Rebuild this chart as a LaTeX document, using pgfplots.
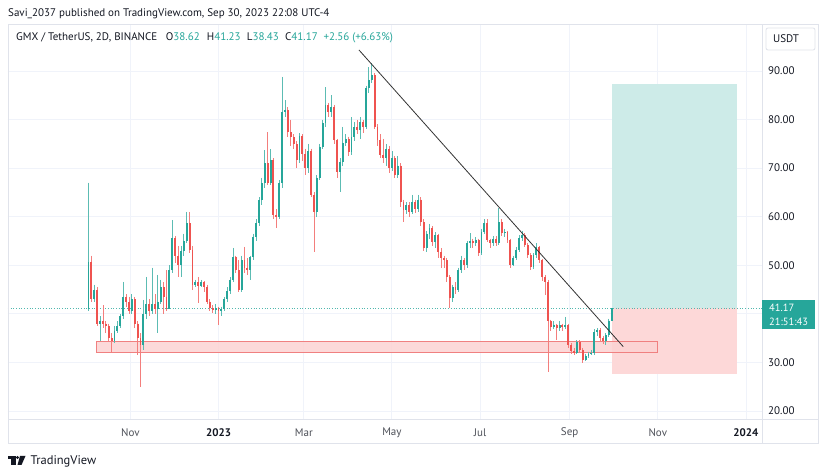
\documentclass[border=0pt]{standalone}
\usepackage{fontspec}
\setmainfont{PT Sans}
\usepackage{pgfplots}
\pgfplotsset{compat=1.18}
\usepackage{pgfplotstable}
\definecolor{upc}{HTML}{26A69A}
\definecolor{dnc}{HTML}{EF5350}
\definecolor{txt}{HTML}{131722}
\definecolor{gridc}{HTML}{F0F3FA}
\definecolor{framec}{HTML}{E0E3EB}
\definecolor{zonefill}{HTML}{FCD3D3}
\definecolor{zoneline}{HTML}{F08080}
\definecolor{tpfill}{HTML}{CDEBE8}
\definecolor{slfill}{HTML}{FDD8D8}

\pgfplotstableread{
i o h l c
0 41.0 67.0 40.5 50.7
1 50.7 52.0 42.5 43.0
2 43.0 46.0 42.5 45.0
3 45.0 45.5 37.5 38.0
4 38.0 39.5 34.5 38.5
5 38.5 41.8 37.0 38.0
6 38.0 38.5 36.0 37.5
7 37.5 38.0 34.5 35.0
8 35.0 36.0 32.0 34.5
9 34.5 37.5 34.0 36.5
10 36.5 38.5 36.0 37.5
11 37.5 40.0 37.0 39.5
12 39.5 46.6 39.0 43.5
13 43.5 44.0 41.5 42.5
14 42.5 43.5 40.0 40.5
15 40.5 44.0 40.0 43.0
16 43.0 43.5 37.0 38.0
17 38.0 38.5 31.5 35.0
18 35.0 36.0 25.0 33.5
19 33.5 42.9 32.5 40.0
20 40.0 47.6 39.0 42.0
21 42.0 43.0 39.5 40.5
22 40.5 49.5 40.0 42.0
23 42.0 44.0 40.0 41.0
24 41.0 48.0 36.0 42.5
25 42.5 47.0 42.0 45.5
26 45.5 46.5 40.0 43.5
27 43.5 49.0 40.5 41.0
28 41.0 50.0 41.0 49.0
29 49.0 59.3 48.5 55.6
30 55.6 56.0 50.5 52.0
31 52.0 54.0 47.6 50.0
32 50.0 54.0 47.5 53.0
33 53.0 56.5 52.0 55.0
34 55.0 61.0 54.5 58.7
35 58.7 61.0 52.5 53.2
36 53.2 54.0 45.0 46.0
37 46.0 47.0 45.5 46.5
38 46.5 47.5 42.2 45.8
39 45.8 47.0 45.5 46.5
40 46.5 46.8 44.5 45.5
41 45.5 46.0 42.0 42.5
42 42.5 43.0 40.5 41.2
43 41.2 41.8 40.2 40.8
44 40.8 42.0 40.0 41.2
45 41.2 41.5 37.7 40.5
46 40.5 41.5 39.5 41.0
47 41.0 43.5 40.5 43.0
48 43.0 45.5 42.5 44.8
49 44.8 47.5 44.0 47.0
50 47.0 53.6 46.5 51.7
51 51.7 52.0 48.5 49.0
52 49.0 51.0 44.5 45.0
53 45.0 52.0 44.5 51.0
54 51.0 53.8 48.5 49.5
55 49.5 51.5 48.0 49.0
56 49.0 52.0 47.0 51.7
57 51.7 56.5 51.0 55.8
58 55.8 59.5 55.0 58.7
59 58.7 64.0 58.0 63.4
60 63.4 68.0 62.5 66.9
61 66.9 73.7 66.0 71.0
62 71.0 77.4 66.5 67.0
63 67.0 73.9 66.5 71.6
64 71.6 72.0 59.5 60.4
65 60.4 61.5 57.7 60.0
66 60.0 67.5 59.5 67.0
67 67.0 88.8 66.0 81.6
68 81.6 84.0 80.5 82.0
69 82.0 82.5 76.5 77.4
70 77.4 80.0 74.5 76.4
71 76.4 77.0 74.0 74.9
72 74.9 75.5 70.0 71.6
73 71.6 77.2 71.0 76.6
74 76.6 77.0 71.5 73.0
75 73.0 74.0 68.5 70.0
76 70.0 75.0 69.0 73.5
77 73.5 74.0 64.0 64.5
78 64.5 65.0 52.7 61.0
79 61.0 68.5 60.0 68.0
80 68.0 75.0 67.5 74.4
81 74.4 80.0 74.0 79.3
82 79.3 86.7 78.5 83.0
83 83.0 83.5 80.5 81.5
84 81.5 85.0 80.5 82.6
85 82.6 83.0 75.0 75.8
86 75.8 76.0 68.0 69.2
87 69.2 72.0 65.1 71.3
88 71.3 78.5 70.5 75.2
89 75.2 77.0 74.5 76.0
90 76.0 76.5 72.5 73.3
91 73.3 80.5 72.8 76.4
92 76.4 79.5 75.5 78.5
93 78.5 80.0 77.0 77.9
94 77.9 80.5 76.0 79.5
95 79.5 80.0 77.2 78.5
96 78.5 87.0 78.0 86.5
97 86.5 90.8 85.5 88.1
98 88.1 91.6 87.5 89.2
99 89.2 89.5 78.0 78.5
100 78.5 79.0 74.5 75.8
101 75.8 77.0 72.0 72.7
102 72.7 76.0 71.0 72.0
103 72.0 75.0 70.5 74.0
104 74.0 74.5 69.0 70.0
105 70.0 73.5 69.5 72.0
106 72.0 72.5 68.0 68.6
107 68.6 72.5 68.0 70.5
108 70.5 71.0 62.0 63.0
109 63.0 63.5 58.9 61.4
110 61.4 63.0 60.5 62.4
111 62.4 63.0 60.0 61.0
112 61.0 64.5 60.5 63.0
113 63.0 63.5 60.8 61.5
114 61.5 64.5 61.0 63.5
115 63.5 64.0 58.0 58.9
116 58.9 59.5 53.0 53.6
117 53.6 57.0 52.7 56.5
118 56.5 58.5 55.5 57.7
119 57.7 58.0 54.0 54.8
120 54.8 56.8 53.5 56.2
121 56.2 56.5 51.5 52.7
122 52.7 53.5 49.5 51.5
123 51.5 52.0 49.5 51.0
124 51.0 51.5 46.5 47.5
125 47.5 48.0 41.2 43.3
126 43.3 46.0 42.5 45.5
127 45.5 46.5 44.0 45.0
128 45.0 49.5 44.5 49.0
129 49.0 52.0 48.5 51.0
130 51.0 51.5 49.0 50.0
131 50.0 55.0 49.5 54.6
132 54.6 56.6 53.5 55.0
133 55.0 55.5 53.5 54.5
134 54.5 55.8 54.0 55.2
135 55.2 55.5 52.0 52.5
136 52.5 57.5 52.2 56.9
137 56.9 59.5 56.5 58.7
138 58.7 59.5 54.8 55.2
139 55.2 55.5 53.5 54.5
140 54.5 56.0 54.0 55.5
141 55.5 56.0 54.0 54.6
142 54.6 61.8 54.2 58.9
143 58.9 59.5 56.0 56.6
144 56.6 57.5 55.8 56.8
145 56.8 57.0 54.5 55.2
146 55.2 55.5 49.5 50.1
147 50.1 52.0 49.8 51.5
148 51.5 53.8 51.0 53.2
149 53.2 56.2 52.8 55.6
150 55.6 57.0 55.0 56.2
151 56.2 56.6 53.8 54.2
152 54.2 54.5 51.5 52.1
153 52.1 52.5 49.0 49.6
154 49.6 52.5 49.2 52.1
155 52.1 54.5 51.5 53.8
156 53.8 54.0 50.5 51.0
157 51.0 51.3 46.8 47.6
158 47.6 48.0 43.9 46.5
159 46.5 47.0 28.0 38.5
160 38.5 38.8 36.5 37.3
161 37.3 38.5 36.8 37.8
162 37.8 38.0 34.6 37.0
163 37.0 38.5 36.5 37.7
164 37.7 38.0 36.5 37.2
165 37.2 39.4 36.8 37.6
166 37.6 38.0 33.0 33.6
167 33.6 34.0 31.8 32.3
168 32.3 33.0 31.5 32.0
169 32.0 34.6 31.8 34.2
170 34.2 34.6 32.2 32.6
171 32.6 33.0 29.9 30.5
172 30.5 31.8 30.2 31.4
173 31.4 32.2 31.0 31.8
174 31.8 32.6 31.5 32.0
175 32.0 36.8 31.6 36.3
176 36.3 37.0 35.5 36.7
177 36.7 37.0 34.5 35.0
178 35.0 35.5 33.8 34.5
179 34.5 36.0 33.5 35.6
180 35.6 39.0 35.2 38.62
181 38.62 41.23 38.43 41.17
}\candles

\begin{document}
\begin{tikzpicture}
\useasboundingbox (0pt,0pt) rectangle (828pt,476pt);
\fill[white] (0pt,0pt) rectangle (828pt,476pt);
\begin{axis}[
  at={(8pt,57pt)}, anchor=south west,
  width=754pt, height=394pt, scale only axis,
  xmin=-145.7, xmax=376.1, ymin=18.35, ymax=99.47,
  axis line style={draw=none},
  major tick length=0pt,
  xtick={-61,0,59,120,181,243,304,365},
  xticklabels={Nov,\textbf{\color{txt}2023},Mar,May,Jul,Sep,Nov,\textbf{\color{txt}2024}},
  ytick={20,30,50,60,70,80,90},
  extra y ticks={40}, extra y tick labels={},
  extra y tick style={grid=major},
  yticklabel pos=right,
  /pgf/number format/assume math mode=true,
  yticklabel={\pgfmathprintnumber[fixed,fixed zerofill,precision=2]{\tick}},
  xticklabel style={font=\fontsize{11}{13}\selectfont, text=txt!75, anchor=center, yshift=-14pt},
  yticklabel style={font=\fontsize{11}{13}\selectfont, text=txt, anchor=west, xshift=6pt, inner sep=0pt},
  grid=major, grid style={draw=gridc, line width=0.9pt},
  clip=false,
]
% long position
\fill[tpfill] (axis cs:272.2,41.17) rectangle (axis cs:358.8,87.3);
\fill[slfill] (axis cs:272.2,27.6) rectangle (axis cs:358.8,41.17);
% support zone
\filldraw[fill=zonefill, fill opacity=0.85, draw=zoneline, line width=0.8pt] (axis cs:-84.8,32.04) rectangle (axis cs:303.5,34.41);
% last price line
\draw[upc!80, dotted, line width=0.7pt] (axis cs:-145.7,41.17) -- (axis cs:376.1,41.17);
% wicks
\addplot[draw=none, mark=none, forget plot,
  error bars/.cd, y dir=minus, y explicit, error mark=none,
  error bar style={draw=upc!75, line width=0.8pt}]
  table[x expr={-90+2*\thisrow{i}}, y expr={\thisrow{c}>=\thisrow{o} ? \thisrow{h} : nan},
        y error minus expr={\thisrow{h}-\thisrow{l}}] {\candles};
\addplot[draw=none, mark=none, forget plot,
  error bars/.cd, y dir=minus, y explicit, error mark=none,
  error bar style={draw=dnc!75, line width=0.8pt}]
  table[x expr={-90+2*\thisrow{i}}, y expr={\thisrow{c}<\thisrow{o} ? \thisrow{h} : nan},
        y error minus expr={\thisrow{h}-\thisrow{l}}] {\candles};
% bodies
\addplot[draw=none, mark=none, forget plot,
  error bars/.cd, y dir=minus, y explicit, error mark=none,
  error bar style={draw=upc, line width=1.9pt}]
  table[x expr={-90+2*\thisrow{i}}, y expr={\thisrow{c}>=\thisrow{o} ? \thisrow{c} : nan},
        y error minus expr={max(\thisrow{c}-\thisrow{o},0.2)}] {\candles};
\addplot[draw=none, mark=none, forget plot,
  error bars/.cd, y dir=minus, y explicit, error mark=none,
  error bar style={draw=dnc, line width=1.9pt}]
  table[x expr={-90+2*\thisrow{i}}, y expr={\thisrow{c}<\thisrow{o} ? \thisrow{o} : nan},
        y error minus expr={max(\thisrow{o}-\thisrow{c},0.2)}] {\candles};
% trend line
\draw[black!80, line width=0.8pt] (axis cs:97.2,94.32) -- (axis cs:280.1,33.24);
\end{axis}
\begin{scope}[x=1pt,y=1pt]
% frame
\draw[framec, line width=0.8pt] (8,33) rectangle (818,452);
\draw[framec, line width=0.8pt] (762,33) -- (762,452);
\draw[framec, line width=0.8pt] (8,57) -- (818,57);
% USDT box
\draw[framec, line width=0.8pt, fill=white, rounded corners=2pt] (766,448) rectangle (815,426);
\node[font=\fontsize{11}{13}\selectfont, text=txt] at (786,437) {USDT};
% price label
\fill[upc] (762,176) rectangle (815,147);
\node[anchor=west, inner sep=0pt, font=\fontsize{10.5}{12}\selectfont, text=white] at (769,168) {41.17};
\node[anchor=west, inner sep=0pt, font=\fontsize{10.5}{12}\selectfont, text=white] at (769,154.5) {21:51:43};
% header
\node[anchor=base west, inner sep=0pt, font=\fontsize{11}{13}\selectfont, text=txt] at (8,459) {Savi\_2037 published on TradingView.com, Sep 30, 2023 22:08 UTC-4};
\begin{scope}[every node/.style={anchor=base west, inner sep=0pt, font=\fontsize{11}{13}\selectfont}]
\node[text=txt] at (16,435) {GMX / TetherUS, 2D, BINANCE};
\node[text=txt] at (165.7,435) {O\textcolor{upc}{38.62}};
\node[text=txt] at (206.7,435) {H\textcolor{upc}{41.23}};
\node[text=txt] at (246.7,435) {L\textcolor{upc}{38.43}};
\node[text=txt] at (285,435) {C\textcolor{upc}{41.17}};
\node[text=upc] at (323.3,435) {+2.56 (+6.63\%)};
\end{scope}
% logo
\fill[txt] (8,20) rectangle (15.5,17);
\fill[txt] (11,17) rectangle (15.5,11);
\fill[txt] (17.5,18.5) circle (1.6);
\fill[txt] (20,20) -- (25.5,20) -- (21.5,11) -- (17.5,11) -- cycle;
\node[anchor=base west, inner sep=0pt, font=\fontsize{12.5}{14}\selectfont, text=txt] at (30.5,11.5) {TradingView};
\end{scope}
\end{tikzpicture}
\end{document}
